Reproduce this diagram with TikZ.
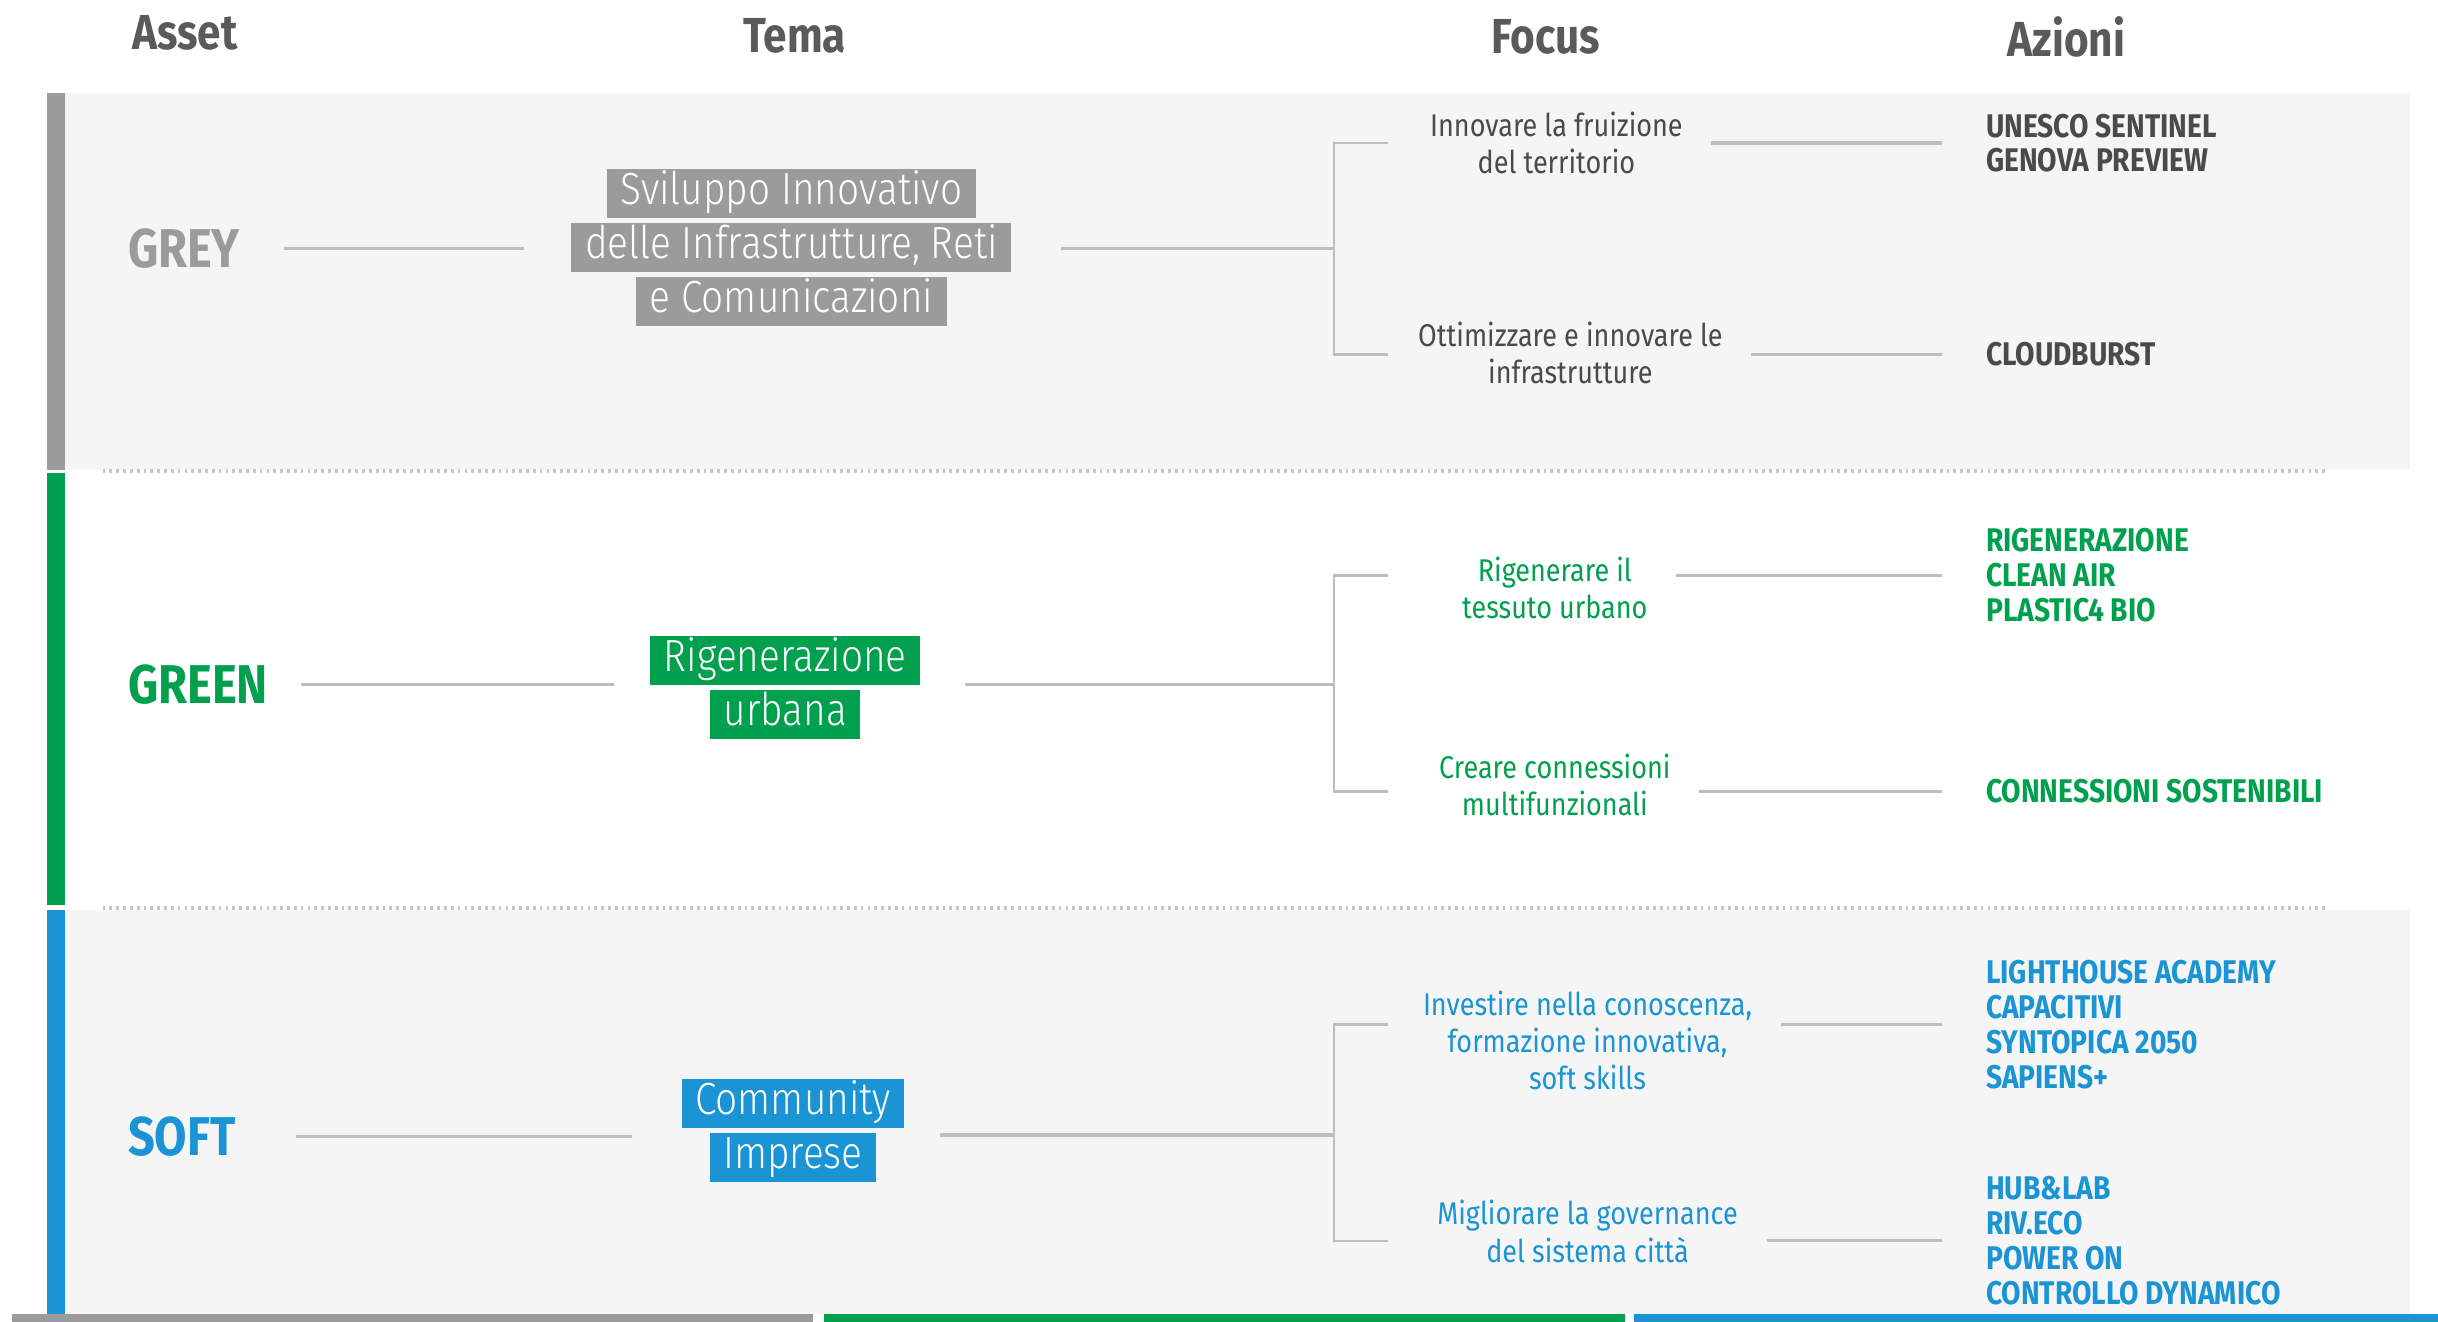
\documentclass[tikz,border=0pt]{standalone}
\usepackage{fontspec}
\setmainfont{Fira Sans}[FakeStretch=0.86]
\newfontfamily\temafont{Fira Sans}[UprightFont={* Light},FakeStretch=0.86]

\definecolor{assetgrey}{HTML}{9B9B9B}
\definecolor{assetgreen}{HTML}{00A04E}
\definecolor{assetblue}{HTML}{1A94D4}
\definecolor{bandbg}{HTML}{F5F5F5}
\definecolor{linkgrey}{HTML}{BDBDBD}
\definecolor{textgrey}{HTML}{4A4A4A}
\definecolor{headgrey}{HTML}{5A5A5A}

% one highlighted line of a Tema label
\newcommand{\hl}[2]{{\setlength{\fboxsep}{0pt}\colorbox{#1}{\hspace{5pt}\rule[-5pt]{0pt}{18pt}#2\hspace{5pt}}}}

\begin{document}
\begin{tikzpicture}[x=0.02cm,y=-0.02cm,
  head/.style={font=\fontsize{18}{20}\selectfont\bfseries,text=headgrey},
  asset/.style={anchor=west,inner sep=0pt,font=\fontsize{20}{22}\selectfont\bfseries},
  tema/.style={inner sep=0pt,align=center,text=white,font=\temafont\fontsize{16.5}{19.8}\selectfont},
  focus/.style={align=center,font=\fontsize{11.5}{13.6}\selectfont},
  azione/.style={anchor=west,align=left,inner sep=0pt,font=\fontsize{12}{12.75}\selectfont\bfseries},
  link/.style={draw=linkgrey,line width=1.2pt},
  brk/.style={draw=linkgrey,line width=0.9pt},
  sep/.style={draw=black!22,line width=1.5pt,dash pattern=on 1pt off 1.5pt}]
  \useasboundingbox (0,0) rectangle (1568,850);

  % bands, side bars and bottom bars
  \fill[bandbg] (42,60) rectangle (1550,302);
  \fill[bandbg] (42,585) rectangle (1550,845);
  \fill[assetgrey] (30,60) rectangle (42,302);
  \fill[assetgreen] (30,304) rectangle (42,582);
  \fill[assetblue] (30,585) rectangle (42,845);
  \draw[sep] (66,303) -- (1497,303);
  \draw[sep] (66,584) -- (1497,584);
  \fill[assetgrey] (8,845) rectangle (523,850);
  \fill[assetgreen] (530,845) rectangle (1045,850);
  \fill[assetblue] (1051,845) rectangle (1568,850);

  % column headers
  \node[head] (hasset) at (119,21) {Asset};
  \node[head] (htema) at (511,23) {Tema};
  \node[head] (hfocus) at (994,24) {Focus};
  \node[head] (hazioni) at (1329,24) {Azioni};

  % GREY
  \node[asset,text=assetgrey] (grey) at (82,160) {GREY};
  \node[tema] (greytema) at (509,159) {\hl{assetgrey}{Sviluppo Innovativo}\\\hl{assetgrey}{delle Infrastrutture, Reti}\\\hl{assetgrey}{e Comunicazioni}};
  \coordinate (greyfork) at (858,160);
  \node[focus,text=textgrey] (greyf1) at (1001,92) {Innovare la fruizione\\del territorio};
  \node[focus,text=textgrey] (greyf2) at (1010,227) {Ottimizzare e innovare le\\infrastrutture};
  \node[azione,text=textgrey] (greya1) at (1277,92) {UNESCO SENTINEL\\GENOVA PREVIEW};
  \node[azione,text=textgrey] (greya2) at (1277,228) {CLOUDBURST};
  \draw[link,shorten <=16pt,shorten >=17pt] (grey) -- (grey -| greytema.west);
  \draw[link,shorten <=18pt] (greytema.east |- greyfork) -- (greyfork);
  \draw[brk] (greyfork |- greya1) ++(35,0) -- ++(-35,0) -- (greyfork |- greya2) -- ++(35,0);
  \draw[link,shorten <=7pt,shorten >=16pt] (greyf1.east |- greya1) -- (greya1);
  \draw[link,shorten <=7pt,shorten >=16pt] (greyf2.east |- greya2) -- (greya2);

  % GREEN
  \node[asset,text=assetgreen] (green) at (82,440) {GREEN};
  \node[tema] (greentema) at (505,442) {\hl{assetgreen}{Rigenerazione}\\\hl{assetgreen}{urbana}};
  \coordinate (greenfork) at (858,440);
  \node[focus,text=assetgreen] (greenf1) at (1000,378) {Rigenerare il\\tessuto urbano};
  \node[focus,text=assetgreen] (greenf2) at (1000,505) {Creare connessioni\\multifunzionali};
  \node[azione,text=assetgreen] (greena1) at (1277,370) {RIGENERAZIONE\\CLEAN AIR\\PLASTIC4 BIO};
  \node[azione,text=assetgreen] (greena2) at (1277,509) {CONNESSIONI SOSTENIBILI};
  \draw[link,shorten <=12pt,shorten >=13pt] (green) -- (green -| greentema.west);
  \draw[link,shorten <=16pt] (greentema.east |- greenfork) -- (greenfork);
  \draw[brk] (greenfork |- greena1) ++(35,0) -- ++(-35,0) -- (greenfork |- greena2) -- ++(35,0);
  \draw[link,shorten <=7pt,shorten >=16pt] (greenf1.east |- greena1) -- (greena1);
  \draw[link,shorten <=7pt,shorten >=16pt] (greenf2.east |- greena2) -- (greena2);

  % SOFT
  \node[asset,text=assetblue] (soft) at (82,731) {SOFT};
  \node[tema] (softtema) at (510,727) {\hl{assetblue}{Community}\\\hl{assetblue}{Imprese}};
  \coordinate (softfork) at (858,730);
  \node[focus,text=assetblue] (softf1) at (1021,669) {Investire nella conoscenza,\\formazione innovativa,\\soft skills};
  \node[focus,text=assetblue] (softf2) at (1021,792) {Migliorare la governance\\del sistema città};
  \node[azione,text=assetblue] (softa1) at (1277,659) {LIGHTHOUSE ACADEMY\\CAPACITIVI\\SYNTOPICA 2050\\SAPIENS+};
  \node[azione,text=assetblue] (softa2) at (1277,798) {HUB\&LAB\\RIV.ECO\\POWER ON\\CONTROLLO DYNAMICO};
  \draw[link,shorten <=22pt,shorten >=18pt] (soft) -- (soft -| softtema.west);
  \draw[link,shorten <=13pt] (softtema.east |- softfork) -- (softfork);
  \draw[brk] (softfork |- softa1) ++(35,0) -- ++(-35,0) -- (softfork |- softa2) -- ++(35,0);
  \draw[link,shorten <=7pt,shorten >=16pt] (softf1.east |- softa1) -- (softa1);
  \draw[link,shorten <=7pt,shorten >=16pt] (softf2.east |- softa2) -- (softa2);
\end{tikzpicture}
\end{document}
